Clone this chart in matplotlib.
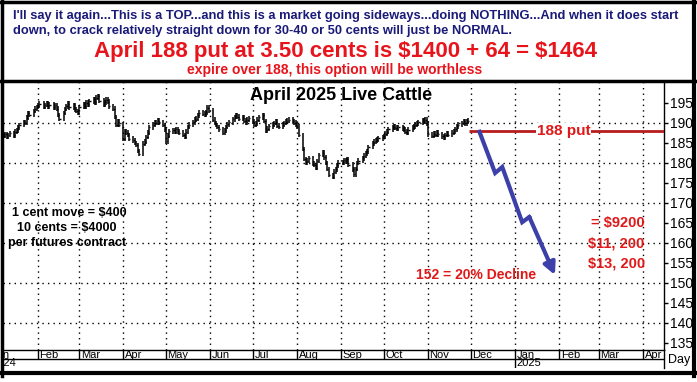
import matplotlib
matplotlib.use('Agg')
import matplotlib.pyplot as plt
import matplotlib.dates as mdates
from matplotlib.lines import Line2D
import pandas as pd

# daily settles, April 2025 live cattle (cents/lb)
jan = [186.8, 187.2, 186.5, 187.0, 187.4, 186.9, 187.8, 188.2, 188.9, 189.5,
       190.2, 190.0, 191.3, 192.5, 192.1, 193.0, 193.6, 194.0]
feb = [194.3, 194.8, 194.0, 194.5, 194.9, 194.2, 194.6, 193.9, 194.4, 193.6,
       192.0, 191.0, 192.5, 193.5, 194.2, 194.8, 193.9, 194.5, 193.4, 193.0, 192.5]
mar = [194.0, 194.6, 194.2, 195.1, 194.7, 195.4, 195.9, 195.2, 196.3, 196.7,
       195.6, 194.6, 195.2, 195.8, 195.3, 194.2, 193.6, 191.5, 189.5, 190.3, 189.6]
apr = [186.0, 188.0, 187.6, 187.0, 186.1, 185.7, 185.0, 184.5, 183.0, 182.3,
       184.8, 185.3, 186.5, 187.6, 188.9, 189.6, 190.1, 190.0, 190.6, 190.2, 189.5, 188.4]
may = [185.4, 186.8, 187.9, 188.2, 187.8, 188.4, 187.9, 187.6, 187.0, 186.6,
       187.8, 189.0, 189.6, 190.2, 190.8, 191.1, 191.9, 192.6, 192.3, 192.1,
       192.7, 193.8, 193.1]
jun = [190.8, 190.0, 189.5, 189.0, 188.4, 187.6, 188.2, 189.0, 189.7, 190.2,
       190.9, 191.5, 192.0, 191.6, 191.0, 191.3, 190.6, 190.2, 190.8, 191.2]
jul = [190.3, 189.5, 189.9, 190.8, 191.4, 191.9, 190.5, 188.2, 188.6, 189.2,
       189.6, 190.0, 190.3, 189.3, 189.0, 189.6, 190.0, 190.3, 190.6, 190.8,
       190.5, 190.1, 189.6]
aug = [189.2, 187.0, 183.5, 181.0, 180.2, 180.6, 181.2, 179.8, 179.5, 178.8,
       180.5, 182.0, 182.6, 181.4, 180.0, 178.5, 177.0, 176.6, 177.8, 178.4,
       179.4, 180.1]
sep = [180.2, 180.7, 180.4, 181.0, 179.6, 178.4, 177.2, 178.5, 180.0, 180.6,
       181.2, 181.8, 182.4, 182.9, 184.0, 184.9, 185.3, 185.6, 185.8, 186.2, 186.5]
oct_ = [186.7, 187.3, 187.8, 188.4, 188.9, 189.1, 188.8, 188.6, 189.0, 188.7,
        188.3, 187.8, 187.6, 188.3, 188.8, 189.2, 189.6, 189.9, 190.2, 190.6,
        190.3, 190.8, 189.8]
nov = [187.2, 186.8, 187.3, 187.0, 187.6, 187.2, 186.7, 186.4, 187.0, 187.3,
       187.0, 187.6, 187.9, 188.4, 189.2, 189.6, 190.0, 190.4, 189.9, 190.3, 190.6]

month_starts = ['2024-01-08', '2024-02-01', '2024-03-01', '2024-04-01', '2024-05-01',
                '2024-06-01', '2024-07-01', '2024-08-01', '2024-09-01', '2024-10-01',
                '2024-11-01']
month_data = [jan, feb, mar, apr, may, jun, jul, aug, sep, oct_, nov]

# projected path drawn on the chart
proj_dates = ['2024-12-07', '2024-12-18', '2024-12-23', '2025-01-06', '2025-01-11', '2025-01-29']
proj_vals = [187.8, 177.5, 179.0, 165.2, 166.5, 152.0]

put_strike = 188
month_names = ['Jan', 'Feb', 'Mar', 'Apr', 'May', 'Jun', 'Jul', 'Aug', 'Sep', 'Oct',
               'Nov', 'Dec', 'Jan', 'Feb', 'Mar', 'Apr']
y_ticks = list(range(135, 200, 5))

W, H = 697, 382
def fx(p): return p / W
def fy(p): return 1 - p / H

FONT = 'Liberation Sans'

dates, closes = [], []
for start, vals in zip(month_starts, month_data):
    end = pd.Timestamp(start) + pd.offsets.MonthEnd(0)
    d = pd.bdate_range(start, end)[:len(vals)]
    dates += list(d)
    closes += vals
xd = mdates.date2num(dates)

fig = plt.figure(figsize=(W / 100, H / 100), dpi=100)
fig.patch.set_facecolor('white')

x0 = mdates.date2num(pd.Timestamp('2024-01-07 10:00'))
x1 = mdates.date2num(pd.Timestamp('2025-04-15 14:00'))

ax = fig.add_axes([fx(3), fy(350), fx(664) - fx(3), fy(83) - fy(350)])
ax.set_xlim(x0, x1)
ax.set_ylim(133.25, 200)

# grid
mstarts = mdates.date2num(pd.date_range('2024-01-01', '2025-04-01', freq='MS'))
for m in mstarts[1:]:
    ax.axvline(m, color='black', lw=1, ls=(0, (1, 3)), zorder=0)
for g in range(140, 200, 10):
    ax.axhline(g, color='black', lw=1, ls=(0, (1, 3)), zorder=0)

# price bars
prev = closes[0]
for x, c in zip(xd, closes):
    lo = min(prev, c) - 0.6
    hi = max(prev, c) + 0.6
    ax.vlines(x, lo, hi, color='black', lw=1.1)
    ax.hlines(c, x, x + 0.9, color='black', lw=1)
    prev = c

# 188 put line
put_x0 = mdates.date2num(pd.Timestamp('2024-11-30'))
ax.hlines(put_strike, put_x0, x1, color='#b81c1c', lw=2, zorder=3)
ax.text(mdates.date2num(pd.Timestamp('2025-02-04')), put_strike, '188 put',
        color='#e01818', fontsize=11, fontweight='bold', ha='center', va='center',
        family=FONT, zorder=4,
        bbox=dict(boxstyle='square,pad=0.05', fc='white', ec='none'))

# projected path
px = mdates.date2num(pd.to_datetime(proj_dates))
ax.plot(px[:-1], proj_vals[:-1], color='#3c40a8', lw=3, solid_joinstyle='miter', zorder=5)
ax.annotate('', xy=(px[-1], proj_vals[-1]), xytext=(px[-2], proj_vals[-2]),
            arrowprops=dict(arrowstyle='-|>,head_length=0.7,head_width=0.35',
                            color='#3c40a8', lw=3, shrinkA=0, shrinkB=0), zorder=5)

red = '#e01818'
for lab, dt, yv, fs in [('= $9200', '2025-04-02', 165, 10.5), ('$11, 200', '2025-04-02', 160, 10.5),
                        ('$13, 200', '2025-04-02', 155, 10.5), ('152 = 20% Decline', '2025-01-16', 152, 10)]:
    ax.text(mdates.date2num(pd.Timestamp(dt)), yv, lab, color=red, fontsize=fs,
            fontweight='bold', ha='right', va='center', family=FONT, parse_math=False)

fig.text(fx(341), fy(96), 'April 2025 Live Cattle', ha='center',
         va='center', fontsize=13, fontweight='bold', family=FONT)

for lab, xp, yp in [('1 cent move = $400', 12, 213), ('10 cents = $4000', 17, 228),
                    ('per futures contract', 8, 243)]:
    fig.text(fx(xp), fy(yp), lab, fontsize=9, fontweight='bold', ha='left',
             va='center', family=FONT, parse_math=False)

ax.yaxis.tick_right()
ax.set_yticks(y_ticks)
ax.set_yticklabels([str(t) for t in y_ticks], fontsize=10, family=FONT)
ax.tick_params(axis='y', length=3, width=1, pad=1, colors='black')
ax.set_xticks([])
for s in ['left', 'top']:
    ax.spines[s].set_visible(False)
ax.spines['right'].set_linewidth(1)
ax.spines['bottom'].set_linewidth(1)

# month / year band
axm = fig.add_axes([fx(3), fy(368), fx(664) - fx(3), fy(350) - fy(368)])
axm.set_xlim(x0, x1)
axm.set_ylim(0, 2)
axm.axis('off')
axm.axhline(1, color='black', lw=1)
axm.plot([x1, x1], [0, 2], color='black', lw=1, clip_on=False)
for i, (m, name) in enumerate(zip(mstarts, month_names)):
    axm.vlines(m, 1, 2, color='black', lw=1)
    axm.text(m + (1 if i else -1.5), 1.5, name, fontsize=8, ha='left', va='center',
             family=FONT, clip_on=True)
yr_lines = mdates.date2num(pd.to_datetime(['2024-01-01', '2025-01-01']))
axm.vlines(yr_lines, 0, 1, color='black', lw=1)
axm.text(yr_lines[0] - 2, 0.5, '2024', fontsize=8, ha='left', va='center',
         family=FONT, clip_on=True)
axm.text(yr_lines[1] + 1, 0.5, '2025', fontsize=8, ha='left', va='center',
         family=FONT, clip_on=True)
fig.text(fx(668), fy(360), 'Day', fontsize=9, ha='left', va='center', family=FONT)

# header text
navy = '#1a1a78'
fig.text(fx(13), fy(16), "I'll say it again...This is a TOP...and this is a market going sideways...doing NOTHING...And when it does start",
         color=navy, fontsize=9.25, fontweight='bold', ha='left', va='center', family=FONT)
fig.text(fx(13), fy(31), "down, to crack relatively straight down for 30-40 or 50 cents will just be NORMAL.",
         color=navy, fontsize=9.25, fontweight='bold', ha='left', va='center', family=FONT)
fig.text(fx(345), fy(52), 'April 188 put at 3.50 cents is $1400 + 64 = $1464',
         color='#e8141c', fontsize=16, fontweight='bold', ha='center', va='center',
         family=FONT, parse_math=False)
fig.text(fx(335), fy(70), 'expire over 188, this option will be worthless',
         color='#e8141c', fontsize=10, fontweight='bold', ha='center', va='center',
         family=FONT)

# frame
def fline(xs, ys, lw):
    fig.add_artist(Line2D([fx(v) for v in xs], [fy(v) for v in ys], color='black', lw=lw,
                          solid_capstyle='projecting'))
fline([1.5, 1.5], [0, 376], 2.5)
fline([694, 694], [0, 376], 3)
fline([0, 697], [1.5, 1.5], 2.5)
fline([0, 697], [80.5, 80.5], 2.5)
fline([0, 697], [373, 373], 3)

fig.savefig('out.png', dpi=100)
